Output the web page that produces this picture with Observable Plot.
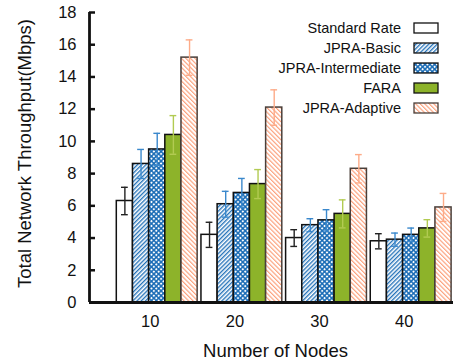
<!DOCTYPE html>
<html><head><meta charset="utf-8">
<script src="https://cdn.jsdelivr.net/npm/d3@7"></script>
<script src="https://cdn.jsdelivr.net/npm/@observablehq/plot@0.6"></script>
<style>
body{margin:0;background:#fff;}
#wrap{position:relative;width:454px;height:364px;font-family:"Liberation Sans",Arial,Helvetica,sans-serif;}
#legend{position:absolute;left:0;top:18px;width:439px;}
.row{display:flex;justify-content:flex-end;align-items:center;height:20px;font-size:14.5px;color:#111;}
.row svg{margin-left:12px;display:block;}
</style>
</head><body>
<svg width="0" height="0" style="position:absolute">
<defs>
<pattern id="pBasic" patternUnits="userSpaceOnUse" width="3" height="3" patternTransform="rotate(45)"><rect width="3" height="3" fill="#fff"/><line x1="0.7" y1="0" x2="0.7" y2="3" stroke="#1a6cb6" stroke-width="1.3"/></pattern>
<pattern id="pInter" patternUnits="userSpaceOnUse" width="3.4" height="3.4" patternTransform="rotate(45)"><rect width="3.4" height="3.4" fill="#1a6cb6"/><circle cx="1.7" cy="1.7" r="1.05" fill="#fff"/></pattern>
<pattern id="pAdapt" patternUnits="userSpaceOnUse" width="3.2" height="3.2" patternTransform="rotate(-45)"><rect width="3.2" height="3.2" fill="#fff"/><line x1="0.6" y1="0" x2="0.6" y2="3.2" stroke="#fc9c74" stroke-width="1.1"/></pattern>
</defs></svg>
<div id="wrap"><div id="chart"></div><div id="legend"></div></div>
<script>
const nodes = ["10", "20", "30", "40"];
const seriesNames = ["Standard Rate", "JPRA-Basic", "JPRA-Intermediate", "FARA", "JPRA-Adaptive"];
const standardRate = [6.3, 4.2, 4.0, 3.8];
const standardRateErr = [0.85, 0.78, 0.52, 0.47];
const jpraBasic = [8.6, 6.1, 4.8, 3.9];
const jpraBasicErr = [0.9, 0.8, 0.4, 0.41];
const jpraIntermediate = [9.5, 6.8, 5.1, 4.2];
const jpraIntermediateErr = [1.0, 0.9, 0.66, 0.42];
const fara = [10.4, 7.35, 5.5, 4.6];
const faraErr = [1.2, 0.9, 0.87, 0.54];
const jpraAdaptive = [15.2, 12.1, 8.3, 5.9];
const jpraAdaptiveErr = [1.1, 1.1, 0.88, 0.87];
const yTicks = [0, 2, 4, 6, 8, 10, 12, 14, 16, 18];

const values = [standardRate, jpraBasic, jpraIntermediate, fara, jpraAdaptive];
const errors = [standardRateErr, jpraBasicErr, jpraIntermediateErr, faraErr, jpraAdaptiveErr];
const fills = ["#fff", "url(#pBasic)", "url(#pInter)", "#8db32a", "url(#pAdapt)"];
const strokes = ["#111", "#111", "#111", "#111", "#4a3f3a"];
const errColors = ["#222", "#3a88cc", "#3a88cc", "#b2cb52", "#fdab88"];

const bw = 0.191;
const rows = [];
seriesNames.forEach((s, si) => nodes.forEach((n, gi) => {
  rows.push({series: s, si, node: n, gi: gi + 1, value: values[si][gi], err: errors[si][gi]});
}));
const center = d => d.gi + (d.si - 2) * bw;
const xDomain = [0.2, 4.5];

const marks = [];
seriesNames.forEach((s, si) => {
  const data = rows.filter(d => d.si === si);
  marks.push(Plot.rectY(data, {
    x1: d => center(d) - bw / 2, x2: d => center(d) + bw / 2,
    y1: 0, y2: "value", fill: fills[si], stroke: strokes[si], strokeWidth: 1.5
  }));
});
seriesNames.forEach((s, si) => {
  const data = rows.filter(d => d.si === si);
  const c = errColors[si];
  marks.push(Plot.ruleX(data, {x: center, y1: d => d.value - d.err, y2: d => d.value + d.err, stroke: c, strokeWidth: 1.4}));
  marks.push(Plot.ruleY(data, {y: d => d.value + d.err, x1: d => center(d) - 0.04, x2: d => center(d) + 0.04, stroke: c, strokeWidth: 1.4}));
  marks.push(Plot.ruleY(data, {y: d => d.value - d.err, x1: d => center(d) - 0.04, x2: d => center(d) + 0.04, stroke: c, strokeWidth: 1.4}));
});

const chart = Plot.plot({
  width: 454, height: 364,
  marginLeft: 89, marginRight: 1, marginTop: 12, marginBottom: 62,
  style: {fontFamily: '"Liberation Sans", Arial, Helvetica, sans-serif', fontSize: "16px", color: "#111", background: "#fff"},
  x: {domain: xDomain, axis: null},
  y: {domain: [0, 18], axis: null},
  marks: [
    ...marks,
    Plot.axisY({ticks: yTicks, tickSize: -6, tickPadding: 19, fontSize: 16.5, strokeWidth: 2.5, tickFormat: d => String(d), label: null}),
    Plot.axisX({ticks: [1, 2, 3, 4], tickFormat: i => nodes[i - 1], tickSize: 0, tickPadding: 13, dx: -7, fontSize: 16.5, label: null}),
    Plot.ruleX([xDomain[0]], {stroke: "#111", strokeWidth: 2.8}),
    Plot.ruleY([0], {stroke: "#111", strokeWidth: 2.8}),
    Plot.text(["Number of Nodes"], {frameAnchor: "bottom", lineAnchor: "middle", textAnchor: "middle", dy: 49, dx: 4, fontSize: 18.5, fill: "#111"}),
    Plot.text(["Total Network Throughput(Mbps)"], {frameAnchor: "left", lineAnchor: "middle", textAnchor: "middle", rotate: -90, dx: -64, dy: -4, fontSize: 18.5, fill: "#111"})
  ]
});
document.getElementById("chart").append(chart);

const legend = document.getElementById("legend");
seriesNames.forEach((s, si) => {
  const row = document.createElement("div");
  row.className = "row";
  row.innerHTML = `<span>${s}</span><svg width="26" height="12"><rect x="1" y="1" width="24" height="10" fill="${fills[si]}" stroke="${strokes[si]}" stroke-width="1.3"/></svg>`;
  legend.append(row);
});
</script>
</body></html>
